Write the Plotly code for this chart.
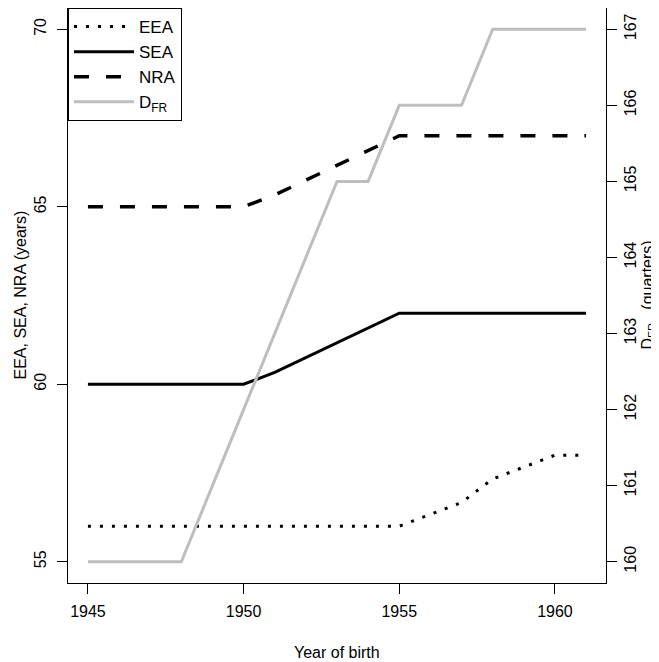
import plotly.graph_objects as go

years = [1945, 1946, 1947, 1948, 1949, 1950, 1951, 1952, 1953, 1954, 1955, 1956, 1957, 1958, 1959, 1960, 1961]
eea = [56, 56, 56, 56, 56, 56, 56, 56, 56, 56, 56, 56.333, 56.667, 57.333, 57.667, 58, 58]
sea = [60, 60, 60, 60, 60, 60, 60.333, 60.75, 61.167, 61.583, 62, 62, 62, 62, 62, 62, 62]
nra = [65, 65, 65, 65, 65, 65, 65.333, 65.75, 66.167, 66.583, 67, 67, 67, 67, 67, 67, 67]
dfr = [160, 160, 160, 160, 161, 162, 163, 164, 165, 165, 166, 166, 166, 167, 167, 167, 167]

x_ticks = [1945, 1950, 1955, 1960]
left_ticks = [55, 60, 65, 70]
right_ticks = [160, 161, 162, 163, 164, 165, 166, 167]

FONT = "Liberation Sans, Arial, sans-serif"
FS = 16

W, H = 651, 654
L, R, T, B = 60, 53, 0, 79
PW, PH = W - L - R, H - T - B

fig = go.Figure()
fig.add_trace(go.Scatter(x=years, y=eea, mode="lines", name="EEA",
                         line=dict(color="black", width=3, dash="3px,9px")))
fig.add_trace(go.Scatter(x=years, y=sea, mode="lines", name="SEA",
                         line=dict(color="black", width=3)))
fig.add_trace(go.Scatter(x=years, y=nra, mode="lines", name="NRA",
                         line=dict(color="black", width=3.5, dash="15px,17px")))
fig.add_trace(go.Scatter(x=years, y=dfr, mode="lines", name="D<sub>FR</sub>", yaxis="y2",
                         line=dict(color="#BEBEBE", width=3)))

# R-style 4% expansion
lx = 1961 - 1945
xr = [1945 - 0.04 * lx, 1961 + 0.04 * lx]
ly = 70 - 55
yr = [55 - 0.04 * ly, 70 + 0.04 * ly]
y2r = [160 + (yr[0] - 55) * 7 / 15, 160 + (yr[1] - 55) * 7 / 15]

axis_common = dict(showgrid=False, zeroline=False, ticks="outside", ticklen=10,
                   tickcolor="black", tickwidth=1, linecolor="black", linewidth=1,
                   tickfont=dict(family=FONT, size=FS, color="black"))

fig.update_layout(
    width=W, height=H,
    margin=dict(l=L, r=R, t=T, b=B, pad=0),
    paper_bgcolor="white", plot_bgcolor="white",
    font=dict(family=FONT, size=FS, color="black"),
    showlegend=True,
    legend=dict(x=0, y=1, xanchor="left", yanchor="top", bgcolor="white",
                bordercolor="black", borderwidth=1,
                font=dict(family=FONT, size=17, color="black"),
                itemwidth=60, tracegroupgap=0),
    xaxis=dict(range=xr, tickvals=x_ticks, showline=True, mirror=True,
               ticklabelstandoff=4, **axis_common),
    yaxis=dict(range=yr, tickvals=left_ticks, tickangle=-90, showline=True, mirror=True,
               ticklabelstandoff=5, **axis_common),
    yaxis2=dict(range=y2r, tickvals=right_ticks, tickangle=-90, overlaying="y",
                side="right", showline=True, **axis_common),
)

fig.add_annotation(text="Year of birth", xref="paper", yref="paper", x=0.5,
                   y=(PH - 644.5) / PH, showarrow=False,
                   font=dict(family=FONT, size=FS, color="black"),
                   xanchor="center", yanchor="middle")
fig.add_annotation(text="EEA, SEA, NRA (years)", xref="paper", yref="paper",
                   x=(12 - L) / PW, y=0.5, textangle=-90, showarrow=False,
                   font=dict(family=FONT, size=FS, color="black"),
                   xanchor="center", yanchor="middle")
fig.add_annotation(text="D<sub>FR</sub>\u00a0\u00a0\u00a0(quarters)", xref="paper", yref="paper",
                   x=(640 - L) / PW, y=0.5, textangle=-90, showarrow=False,
                   font=dict(family=FONT, size=FS, color="black"),
                   xanchor="center", yanchor="middle")

fig.write_html("out.html")
